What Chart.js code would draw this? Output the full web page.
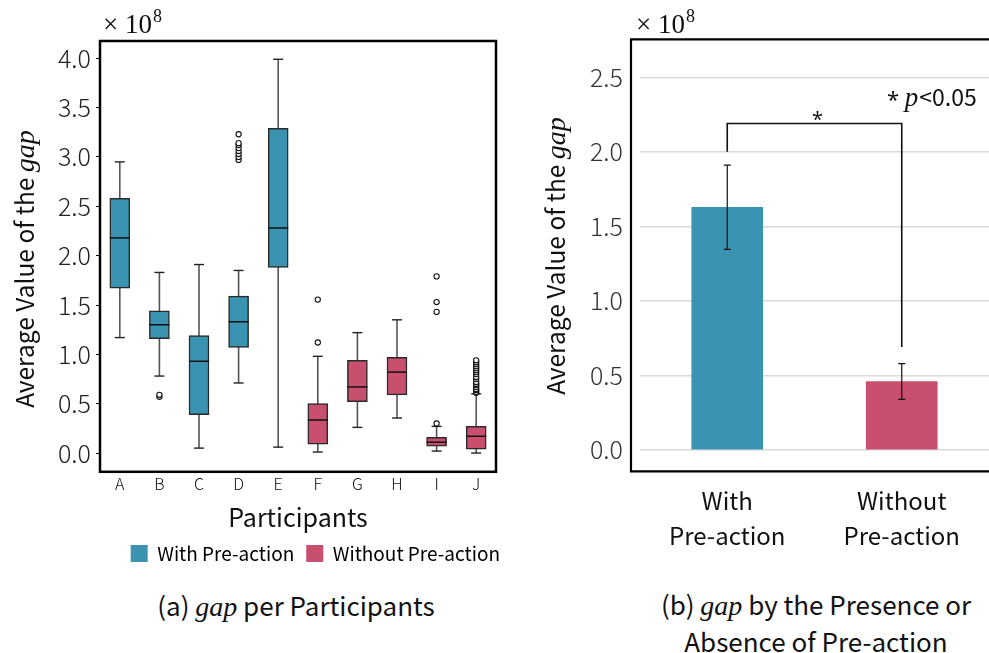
<!DOCTYPE html>
<html><head><meta charset="utf-8">
<script src="https://cdn.jsdelivr.net/npm/chart.js@4/dist/chart.umd.min.js"></script>
<style>
html,body{margin:0;padding:0;background:#fff;width:989px;height:653px;overflow:hidden;position:relative;}
#cA{position:absolute;left:0;top:0;}
#cB{position:absolute;left:520px;top:0;}
.cap{position:absolute;font-family:'Noto Sans CJK JP','Noto Sans',sans-serif;font-size:26px;color:#111;text-align:center;line-height:35px;white-space:nowrap;}
.cap i{font-family:'Liberation Serif',serif;font-size:28px;}
</style></head><body>
<canvas id="cA" width="520" height="573"></canvas>
<canvas id="cB" width="469" height="565"></canvas>
<div class="cap" style="left:96px;top:587px;width:400px;">(a) <i>gap</i> per Participants</div>
<div class="cap" style="left:616px;top:586px;width:400px;">(b) <i>gap</i> by the Presence or<br>Absence of Pre-action</div>
<script>
// ---------- Data (values in units of 10^8) ----------
const participants = ['A','B','C','D','E','F','G','H','I','J'];
const conditionOf  = ['with','with','with','with','with','without','without','without','without','without'];
const whiskerLow   = [1.17, 0.78, 0.05, 0.71, 0.06, 0.01, 0.26, 0.355, 0.02, 0.00];
const q1           = [1.67, 1.16, 0.39, 1.07, 1.88, 0.09, 0.52, 0.59, 0.07, 0.04];
const median       = [2.18, 1.30, 0.93, 1.33, 2.28, 0.335, 0.67, 0.82, 0.11, 0.17];
const q3           = [2.58, 1.44, 1.19, 1.59, 3.29, 0.50, 0.94, 0.97, 0.16, 0.27];
const whiskerHigh  = [2.95, 1.83, 1.91, 1.85, 3.99, 0.98, 1.22, 1.35, 0.27, 0.60];
const outliers = [
  [],
  [0.57, 0.59],
  [],
  [2.97, 3.00, 3.03, 3.06, 3.09, 3.12, 3.14, 3.23],
  [],
  [1.12, 1.555],
  [],
  [],
  [0.30, 1.43, 1.53, 1.79],
  [0.61, 0.62, 0.64, 0.65, 0.67, 0.69, 0.70, 0.72, 0.75, 0.77, 0.80, 0.82, 0.84, 0.86, 0.88, 0.90, 0.92, 0.94]
];
const yTicksA = [0.0, 0.5, 1.0, 1.5, 2.0, 2.5, 3.0, 3.5, 4.0];
const conditions = ['With Pre-action', 'Without Pre-action'];
const barLabels  = [['With','Pre-action'], ['Without','Pre-action']];
const meanGap    = [1.628, 0.459];
const errGap     = [0.283, 0.12];
const yTicksB    = [0.0, 0.5, 1.0, 1.5, 2.0, 2.5];
const sigLevel = 2.19, sigLeftEnd = 2.0, sigRightEnd = 0.69;

// ---------- Styles ----------
const BLUE = '#3A93B1', PINK = '#C94F6E';
const SANS = "'Noto Sans CJK JP','Noto Sans',sans-serif";
const SANS2 = "'Noto Sans','DejaVu Sans',sans-serif";
const SERIF = "'Liberation Serif','DejaVu Serif',serif";
Chart.defaults.font.family = SANS;
Chart.defaults.color = '#111';

function drawVerticalTitle(ctx, cx, cy) {
  ctx.save();
  const f1 = '24.5px ' + SANS, f2 = 'italic 28px ' + SERIF;
  ctx.font = f1; const w1 = ctx.measureText('Average Value of the ').width;
  ctx.font = f2; const w2 = ctx.measureText('gap').width;
  ctx.translate(cx, cy); ctx.rotate(-Math.PI/2);
  ctx.textBaseline = 'alphabetic'; ctx.fillStyle = '#111'; ctx.textAlign = 'left';
  const x0 = -(w1 + w2)/2;
  ctx.font = f1; ctx.fillText('Average Value of the ', x0, 8);
  ctx.font = f2; ctx.fillText('gap', x0 + w1, 8);
  ctx.restore();
}
function drawExponent(ctx, x, baseY) {
  ctx.save();
  ctx.fillStyle = '#111'; ctx.textBaseline = 'alphabetic'; ctx.textAlign = 'left';
  ctx.font = '27px ' + SERIF;
  ctx.fillText('\u00d7 10', x, baseY);
  const w = ctx.measureText('\u00d7 10').width;
  ctx.font = '18px ' + SERIF;
  ctx.fillText('8', x + w + 1, baseY - 11);
  ctx.restore();
}

// ---------- Chart (a): box plot ----------
const boxPlugin = {
  id: 'boxParts',
  afterLayout(chart) {
    const l = chart.legend;
    if (l) { l.left += 16; l.right += 16; }
  },
  beforeDatasetsDraw(chart) {
    const {ctx, scales: {x, y}} = chart;
    ctx.save();
    participants.forEach((p, i) => {
      const px = x.getPixelForValue(i);
      ctx.strokeStyle = '#555'; ctx.lineWidth = 1.6;
      ctx.beginPath();
      ctx.moveTo(px, y.getPixelForValue(whiskerHigh[i]));
      ctx.lineTo(px, y.getPixelForValue(whiskerLow[i]));
      ctx.stroke();
      ctx.strokeStyle = '#222'; ctx.lineWidth = 1.4;
      [whiskerHigh[i], whiskerLow[i]].forEach(v => {
        const py = y.getPixelForValue(v);
        ctx.beginPath(); ctx.moveTo(px - 5, py); ctx.lineTo(px + 5, py); ctx.stroke();
      });
    });
    ctx.restore();
  },
  afterDatasetsDraw(chart) {
    const {ctx, scales: {x, y}} = chart;
    ctx.save();
    ctx.strokeStyle = '#111'; ctx.lineWidth = 1.5;
    participants.forEach((p, i) => {
      const px = x.getPixelForValue(i), py = y.getPixelForValue(median[i]);
      ctx.beginPath(); ctx.moveTo(px - 10, py); ctx.lineTo(px + 10, py); ctx.stroke();
    });
    const a = chart.chartArea;
    ctx.strokeStyle = '#000'; ctx.lineWidth = 2.5;
    ctx.strokeRect(a.left, a.top, a.right - a.left, a.bottom - a.top);
    ctx.restore();
  },
  afterDraw(chart) {
    drawVerticalTitle(chart.ctx, 26, 269);
    drawExponent(chart.ctx, 103, 33);
  }
};

const outlierPoints = [];
outliers.forEach((list, i) => list.forEach(v => outlierPoints.push({x: participants[i], y: v})));

new Chart(document.getElementById('cA'), {
  type: 'bar',
  data: {
    labels: participants,
    datasets: [
      { label: conditions[0], data: participants.map((p, i) => conditionOf[i] === 'with' ? [q1[i], q3[i]] : null),
        backgroundColor: BLUE, borderColor: '#2a2a2a', borderWidth: 1.5, borderSkipped: false, barThickness: 20, grouped: false },
      { label: conditions[1], data: participants.map((p, i) => conditionOf[i] === 'without' ? [q1[i], q3[i]] : null),
        backgroundColor: PINK, borderColor: '#2a2a2a', borderWidth: 1.5, borderSkipped: false, barThickness: 20, grouped: false },
      { type: 'scatter', label: 'outliers', data: outlierPoints, pointRadius: 2.6, pointBackgroundColor: '#fff',
        pointBorderColor: '#111', pointBorderWidth: 1.1 }
    ]
  },
  options: {
    responsive: false, animation: false,
    layout: { padding: { left: 0, right: 24, top: 41, bottom: 0 } },
    plugins: {
      tooltip: { enabled: false },
      legend: {
        position: 'bottom', align: 'end', fullSize: false,
        labels: {
          boxWidth: 17, boxHeight: 17, padding: 12, font: { size: 19 }, color: '#111',
          generateLabels: chart => chart.data.datasets.slice(0, 2).map((d, i) => ({
            text: d.label, fillStyle: d.backgroundColor, strokeStyle: d.backgroundColor, lineWidth: 0, hidden: false, datasetIndex: i }))
        }
      }
    },
    scales: {
      x: {
        type: 'category', offset: true,
        grid: { display: false, drawTicks: false }, border: { display: false },
        ticks: { font: { size: 16, weight: 300 }, color: '#111', padding: 3, maxRotation: 0 },
        title: { display: true, text: 'Participants', font: { size: 25 }, color: '#111', padding: { top: 5, bottom: 0 } }
      },
      y: {
        min: -0.19, max: 4.175,
        afterFit: s => { s.width = 100; },
        afterBuildTicks: s => { s.ticks = yTicksA.map(v => ({ value: v })); },
        grid: { drawOnChartArea: false, drawTicks: true, tickLength: 4, color: '#000', lineWidth: 1 },
        border: { display: false },
        ticks: { font: { size: 25, weight: 300 }, color: '#222', padding: 5, callback: v => v.toFixed(1) }
      }
    }
  },
  plugins: [boxPlugin]
});

// ---------- Chart (b): bar chart with error bars ----------
const errPlugin = {
  id: 'errBars',
  afterDatasetsDraw(chart) {
    const {ctx, scales: {x, y}} = chart;
    ctx.save();
    ctx.strokeStyle = '#111'; ctx.lineWidth = 1.2;
    meanGap.forEach((m, i) => {
      const px = x.getPixelForValue(i);
      const yt = y.getPixelForValue(m + errGap[i]), yb = y.getPixelForValue(m - errGap[i]);
      ctx.beginPath(); ctx.moveTo(px, yt); ctx.lineTo(px, yb);
      ctx.moveTo(px - 3.5, yt); ctx.lineTo(px + 3.5, yt);
      ctx.moveTo(px - 3.5, yb); ctx.lineTo(px + 3.5, yb);
      ctx.stroke();
    });
    // significance bracket
    const x0 = x.getPixelForValue(0), x1 = x.getPixelForValue(1);
    const yl = y.getPixelForValue(sigLevel);
    ctx.lineWidth = 1.6; ctx.strokeStyle = '#111';
    ctx.beginPath();
    ctx.moveTo(x0, y.getPixelForValue(sigLeftEnd)); ctx.lineTo(x0, yl);
    ctx.lineTo(x1, yl); ctx.lineTo(x1, y.getPixelForValue(sigRightEnd));
    ctx.stroke();
    ctx.fillStyle = '#111'; ctx.textAlign = 'center'; ctx.textBaseline = 'alphabetic';
    ctx.font = '20px ' + SANS2;
    ctx.fillText('*', (x0 + x1) / 2 + 3, yl + 2);
    // p-value note
    ctx.textAlign = 'left';
    ctx.font = '22px ' + SANS2; ctx.fillText('*', 367, 107);
    let w = ctx.measureText('* ').width;
    ctx.font = 'italic 27px ' + SERIF; ctx.fillText('p', 367 + w, 106);
    const wp = ctx.measureText('p').width;
    ctx.font = '23px ' + SANS; ctx.fillText('<0.05', 367 + w + wp + 1, 106);
    // frame
    const a = chart.chartArea;
    ctx.strokeStyle = '#000'; ctx.lineWidth = 2.2;
    ctx.beginPath();
    ctx.moveTo(chart.width, a.top); ctx.lineTo(a.left - 9, a.top);
    ctx.lineTo(a.left - 9, a.bottom); ctx.lineTo(chart.width, a.bottom);
    ctx.stroke();
    ctx.restore();
  },
  afterDraw(chart) {
    drawVerticalTitle(chart.ctx, 37, 256);
    drawExponent(chart.ctx, 116, 33);
  }
};

new Chart(document.getElementById('cB'), {
  type: 'bar',
  data: {
    labels: barLabels,
    datasets: [{ label: 'Average gap', data: meanGap, backgroundColor: [BLUE, PINK], borderWidth: 0, barThickness: 71 }]
  },
  options: {
    responsive: false, animation: false,
    layout: { padding: { left: 0, right: 0, top: 39.3, bottom: 0 } },
    plugins: { legend: { display: false }, tooltip: { enabled: false } },
    scales: {
      x: {
        type: 'category', offset: true,
        grid: { display: false, drawTicks: false }, border: { display: false },
        ticks: { font: { size: 24, lineHeight: 1.45 }, color: '#111', padding: 12, maxRotation: 0 }
      },
      y: {
        min: -0.144, max: 2.755,
        afterFit: s => { s.width = 120; },
        afterBuildTicks: s => { s.ticks = yTicksB.map(v => ({ value: v })); },
        grid: { drawTicks: false, color: '#d9d9d9', lineWidth: 1.5 },
        border: { display: false },
        ticks: { font: { size: 25, weight: 300 }, color: '#333', padding: 17, callback: v => v.toFixed(1) }
      }
    }
  },
  plugins: [errPlugin]
});
</script>
</body></html>
